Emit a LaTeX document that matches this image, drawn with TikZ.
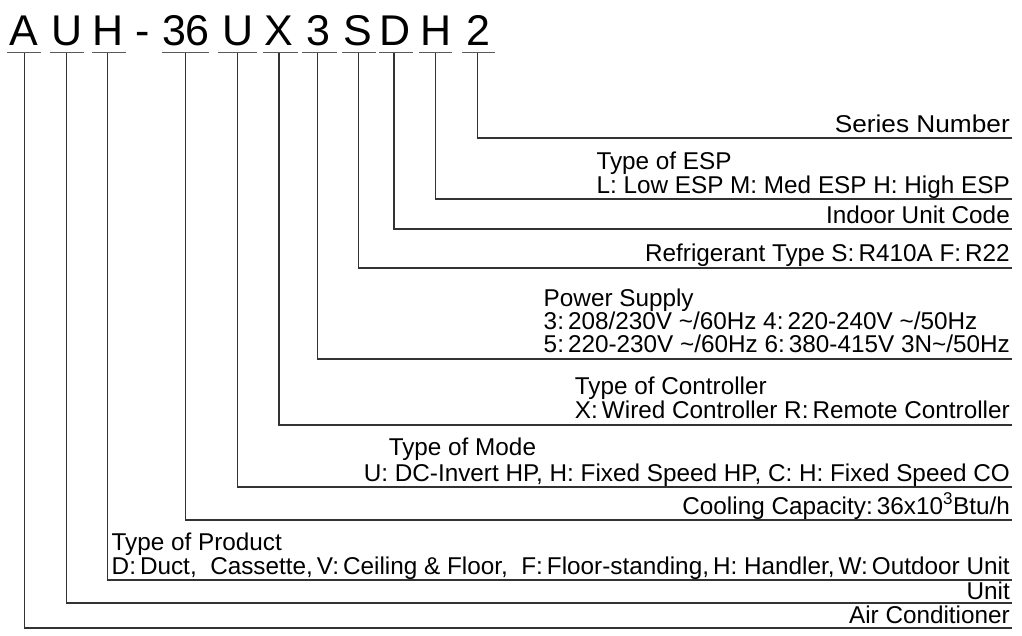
\documentclass[tikz,border=0pt]{standalone}
\usepackage{fontspec}
\usepackage{graphicx}
\setmainfont{Liberation Sans}
\begin{document}
\begin{tikzpicture}[x=1pt,y=-1pt,
  code/.style={font=\fontsize{43}{50}\selectfont, anchor=base, inner sep=0pt},
  lbl/.style={font=\fontsize{24.3}{28}\selectfont, inner sep=0pt},
  rlbl/.style={lbl, anchor=base east},
  llbl/.style={lbl, anchor=base west},
  uline/.style={draw=black!65, line width=1.3pt},
  conn/.style={draw=black!80, line width=1.2pt}]
\useasboundingbox (0,0) rectangle (1022,635);

% code letters
\foreach \t/\x/\n in {A/24/c1, U/67/c2, H/108/c3, -/143/dash, 36/186/c4, U/238/c5, X/279/c6, 3/318/c7, S/358/c8, D/395/c9, H/436/c10, 2/478/c11}
  \node[code] (\n) at (\x,45) {\t};

% underlines
\foreach \a/\b in {7/41, 50/84, 92/126, 162/209, 218/257, 263/298, 302/337, 342/376, 379/413, 419/452, 462/495}
  \draw[uline] (\a,52.5) -- (\b,52.5);

% connector start points (below the underlines) and end points
\foreach \n/\x/\y in {1/24.3/628, 2/66.7/603, 3/107.7/580, 4/185.3/520, 5/237.7/487, 6/279/425, 7/317.7/359, 8/358.3/268, 9/394/229, 10/435.3/199, 11/477.7/138}{
  \coordinate (s\n) at (\x,53);
  \coordinate (e\n) at (1012,\y);
  \draw[conn] (s\n) |- (e\n);
}

% labels
\node[rlbl] (series) at (1010,132) {\scalebox{1.08}[1]{Series Number}};

\node[rlbl] (esp2) at (1010,193) {L: Low ESP M: Med ESP H: High ESP};
\node[llbl] (esp1) at ([yshift=24pt]esp2.base west) {Type of ESP};

\node[rlbl] (indoor) at (1010,223) {Indoor Unit Code};

\node[rlbl] (refr) at (1010,261) {Refrigerant Type S:\,R410A F:\,R22};

\node[rlbl] (pow3) at (1010,352) {5:\,220-230V \textasciitilde/60Hz 6:\,380-415V 3N\textasciitilde/50Hz};
\node[llbl] (pow2) at ([yshift=23pt]pow3.base west) {3:\,208/230V \textasciitilde/60Hz 4:\,220-240V \textasciitilde/50Hz};
\node[llbl] (pow1) at ([yshift=23pt]pow2.base west) {Power Supply};

\node[rlbl] (ctrl2) at (1010,418) {X:\,Wired Controller R:\,Remote Controller};
\node[llbl] (ctrl1) at ([yshift=24pt]ctrl2.base west) {Type of Controller};

\node[rlbl] (mode2) at (1010,481) {U: DC-Invert HP, H: Fixed Speed HP, C: H: Fixed Speed CO};
\node[llbl] (mode1) at ([xshift=25pt,yshift=26pt]mode2.base west) {Type of Mode};

\node[rlbl] (cool) at (1010,514) {Cooling Capacity:\,36x10\textsuperscript{3}Btu/h};

\node[rlbl] (prod2) at (1010,574) {D:\,Duct,\ \ Cassette,\,V:\,Ceiling \& Floor,\ \ F:\,Floor-standing,\,H: Handler,\,W:\,Outdoor Unit};
\node[llbl] (prod1) at ([yshift=24pt]prod2.base west) {Type of Product};

\node[rlbl] (unit) at (1010,599) {Unit};
\node[rlbl] (ac) at (1010,623) {Air Conditioner};
\end{tikzpicture}
\end{document}
